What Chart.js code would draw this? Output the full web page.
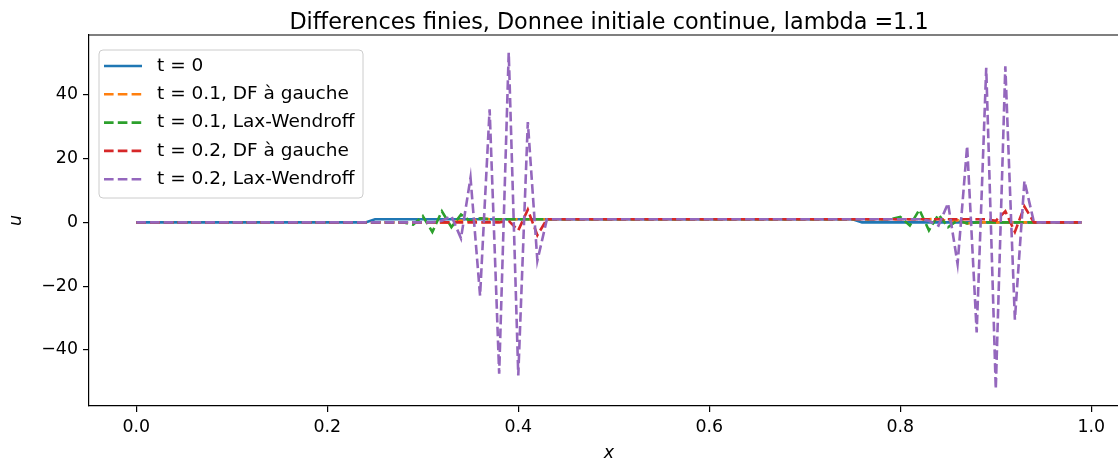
<!DOCTYPE html>
<html>
<head>
<meta charset="utf-8">
<script src="https://cdn.jsdelivr.net/npm/chart.js@4.4.0/dist/chart.umd.min.js"></script>
<style>
  html, body { margin: 0; padding: 0; background: #fff; overflow: hidden; }
  #wrap { width: 1118px; height: 460px; overflow: hidden; }
  canvas { display: block; }
</style>
</head>
<body>
<div id="wrap"><canvas id="chart" width="1129" height="460" style="width:1129px;height:460px"></canvas></div>
<script>
// Series (x, u)
const xT0 = [0, 0.24, 0.25, 0.75, 0.76, 0.99];
const uT0 = [0, 0, 1, 1, 0, 0];

const xDf1 = [0, 0.32, 0.33, 0.34, 0.35, 0.36, 0.37, 0.83, 0.84, 0.85, 0.86, 0.87, 0.88, 0.99];
const uDf1 = [0, 0, -0.1, 0.6, 0.3, 1.3, 1, 1, 1.1, 0.4, 0.7, -0.3, 0, 0];

const xLw1 = [0, 0.28, 0.29, 0.30, 0.31, 0.32, 0.33, 0.34, 0.35, 0.36, 0.37,
              0.79, 0.80, 0.81, 0.82, 0.83, 0.84, 0.85, 0.86, 0.87, 0.88, 0.99];
const uLw1 = [0, 0, -0.7, 2, -3, 3.5, -1.5, 2.5, 0.3, 1.3, 1,
              1, 1.7, -1, 4, -2.5, 2.5, -1.5, 0.7, -0.3, 0, 0];

const xDf2 = [0, 0.38, 0.39, 0.40, 0.41, 0.42, 0.43, 0.89, 0.90, 0.91, 0.92, 0.93, 0.94, 0.99];
const uDf2 = [0, 0, 0.5, -2.5, 4, -4, 1, 1, 0.5, 3.5, -3, 5, 0, 0];

const xLw2 = [0, 0.31, 0.32, 0.33, 0.34, 0.35, 0.36, 0.37, 0.38, 0.39, 0.40, 0.41, 0.42, 0.43,
              0.82, 0.83, 0.84, 0.85, 0.86, 0.87, 0.88, 0.89, 0.90, 0.91, 0.92, 0.93, 0.94, 0.99];
const uLw2 = [0, 0, 0.5, 2, -5, 14, -23, 35.5, -47.5, 53.3, -48, 31.5, -12, 1,
              1, 0.5, -1, 6, -13, 24, -34.5, 48.5, -52.3, 49, -30.5, 13, 0, 0];

const labels = ['t = 0', 't = 0.1, DF à gauche', 't = 0.1, Lax-Wendroff',
                't = 0.2, DF à gauche', 't = 0.2, Lax-Wendroff'];
const colors = ['#1f77b4', '#ff7f0e', '#2ca02c', '#d62728', '#9467bd'];
const xTicks = [0, 0.2, 0.4, 0.6, 0.8, 1.0];
const yTicks = [-40, -20, 0, 20, 40];

const titleText = 'Differences finies, Donnee initiale continue, lambda =1.1';
const FONT = 'DejaVu Sans';
const LW = 2.6;
const DASH = [9.6, 4.2];

function pts(xs, ys) {
  return xs.map((x, i) => ({ x: x, y: ys[i] }));
}

const series = [[xT0, uT0], [xDf1, uDf1], [xLw1, uLw1], [xDf2, uDf2], [xLw2, uLw2]];

const datasets = series.map(([xs, ys], i) => ({
  label: labels[i],
  data: pts(xs, ys),
  borderColor: colors[i],
  backgroundColor: colors[i],
  borderWidth: LW,
  borderDash: i === 0 ? [] : DASH,
  pointRadius: 0,
  tension: 0,
  fill: false,
  order: 4 - i   // later series on top, like matplotlib
}));

// title, top spine and legend box
const decor = {
  id: 'decor',
  afterDraw(chart) {
    const ctx = chart.ctx;
    const a = chart.chartArea;
    ctx.save();

    ctx.strokeStyle = '#000';
    ctx.lineWidth = 1.2;
    ctx.beginPath();
    ctx.moveTo(a.left, a.top);
    ctx.lineTo(a.right, a.top);
    ctx.lineTo(a.right, a.bottom);
    ctx.stroke();

    ctx.fillStyle = '#000';
    ctx.font = '22.3px "' + FONT + '"';
    ctx.textAlign = 'center';
    ctx.textBaseline = 'alphabetic';
    ctx.fillText(titleText, (a.left + a.right) / 2, 29);

    // legend
    const bx = 99, by = 50, bw = 264, bh = 148, r = 4;
    ctx.beginPath();
    ctx.roundRect(bx, by, bw, bh, r);
    ctx.fillStyle = 'rgba(255,255,255,0.8)';
    ctx.fill();
    ctx.strokeStyle = '#cccccc';
    ctx.lineWidth = 1;
    ctx.stroke();

    ctx.font = '18.5px "' + FONT + '"';
    ctx.textAlign = 'left';
    ctx.textBaseline = 'middle';
    chart.data.datasets.forEach((ds, i) => {
      const yy = 66 + i * 28.3;
      ctx.beginPath();
      ctx.setLineDash(ds.borderDash);
      ctx.strokeStyle = ds.borderColor;
      ctx.lineWidth = LW;
      ctx.moveTo(104, yy);
      ctx.lineTo(142, yy);
      ctx.stroke();
      ctx.setLineDash([]);
      ctx.fillStyle = '#000';
      ctx.fillText(ds.label, 157, yy);
    });
    ctx.restore();
  }
};

const tickFont = { family: FONT, size: 17.4 };
const minus = v => String(v).replace('-', '\u2212');

new Chart(document.getElementById('chart'), {
  type: 'line',
  data: { datasets },
  options: {
    responsive: false,
    animation: false,
    devicePixelRatio: 1,
    layout: { padding: { top: 35, left: 0, right: 0, bottom: 0 } },
    plugins: {
      legend: { display: false },
      tooltip: { enabled: false },
      title: { display: false }
    },
    scales: {
      x: {
        type: 'linear',
        min: -0.0495,
        max: 1.0395,
        afterFit: s => { s.height = 54; },
        afterBuildTicks: s => { s.ticks = xTicks.map(v => ({ value: v })); },
        ticks: {
          font: tickFont,
          color: '#000',
          padding: 5,
          maxRotation: 0,
          autoSkip: false,
          callback: v => v.toFixed(1)
        },
        grid: { drawOnChartArea: false, tickLength: 6, color: '#000', lineWidth: 1.2 },
        border: { color: '#000', width: 1.2 },
        title: {
          display: true,
          text: 'x',
          font: { family: FONT, size: 17.4, style: 'italic', lineHeight: 0.8 },
          color: '#000',
          padding: { top: 0, bottom: 0 }
        }
      },
      y: {
        min: -57.6,
        max: 58.8,
        afterFit: s => { s.width = 89; },
        afterBuildTicks: s => { s.ticks = yTicks.map(v => ({ value: v })); },
        ticks: {
          font: tickFont,
          color: '#000',
          padding: 5,
          callback: v => minus(v)
        },
        grid: { drawOnChartArea: false, tickLength: 6, color: '#000', lineWidth: 1.2 },
        border: { color: '#000', width: 1.2 },
        title: {
          display: true,
          text: 'u',
          font: { family: FONT, size: 17.4, style: 'italic' },
          color: '#000',
          padding: { top: 6, bottom: 0 }
        }
      }
    }
  },
  plugins: [decor]
});
</script>
</body>
</html>
